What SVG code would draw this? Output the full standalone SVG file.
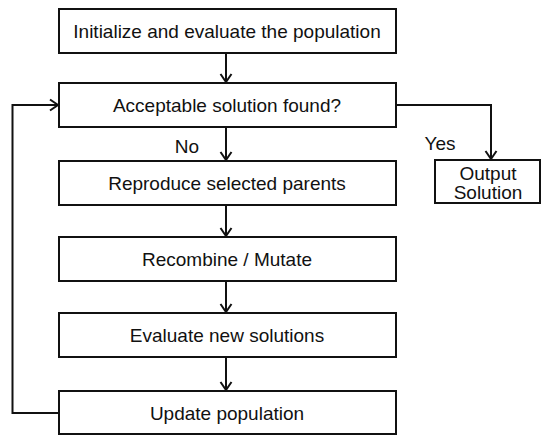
<svg xmlns="http://www.w3.org/2000/svg" width="542" height="438" viewBox="0 0 542 438">
<style>
.box{fill:#fff;stroke:#111;stroke-width:2}
.lbl{font-family:"Liberation Sans",Arial,Helvetica,sans-serif;font-size:19px;fill:#111;text-anchor:middle}
.edge{fill:none;stroke:#111;stroke-width:2;marker-end:url(#ah)}
</style>
<defs>
<marker id="ah" markerUnits="userSpaceOnUse" markerWidth="14" markerHeight="14" viewBox="-10 -7 12 14" refX="0" refY="0" orient="auto">
<path d="M-8,-5.5 L0,0 L-8,5.5" fill="none" stroke="#111" stroke-width="2"/>
</marker>
</defs>
<rect width="542" height="438" fill="#fff"/>
<g id="connectors">
<path class="edge" d="M226,53 V82"/>
<path class="edge" d="M226,127 V160"/>
<path class="edge" d="M226,205 V236"/>
<path class="edge" d="M226,281 V312"/>
<path class="edge" d="M226,357 V390"/>
<path class="edge" d="M59,413 H12.5 V105 H58"/>
<path class="edge" d="M396,105 H491 V159"/>
<text class="lbl" x="187" y="153">No</text>
<text class="lbl" x="440" y="150">Yes</text>
</g>
<g id="n1"><rect class="box" x="59" y="9" width="337" height="44"/><text class="lbl" x="227" y="38">Initialize and evaluate the population</text></g>
<g id="n2"><rect class="box" x="59" y="83" width="337" height="44"/><text class="lbl" x="227" y="112">Acceptable solution found?</text></g>
<g id="n3"><rect class="box" x="59" y="161" width="337" height="44"/><text class="lbl" x="227" y="190">Reproduce selected parents</text></g>
<g id="n4"><rect class="box" x="59" y="237" width="337" height="44"/><text class="lbl" x="227" y="266">Recombine / Mutate</text></g>
<g id="n5"><rect class="box" x="59" y="313" width="337" height="44"/><text class="lbl" x="227" y="342">Evaluate new solutions</text></g>
<g id="n6"><rect class="box" x="59" y="391" width="337" height="43"/><text class="lbl" x="227" y="420">Update population</text></g>
<g id="out"><rect class="box" x="435" y="160" width="105" height="43"/><text class="lbl" x="488" y="180">Output</text><text class="lbl" x="488" y="199">Solution</text></g>
</svg>
